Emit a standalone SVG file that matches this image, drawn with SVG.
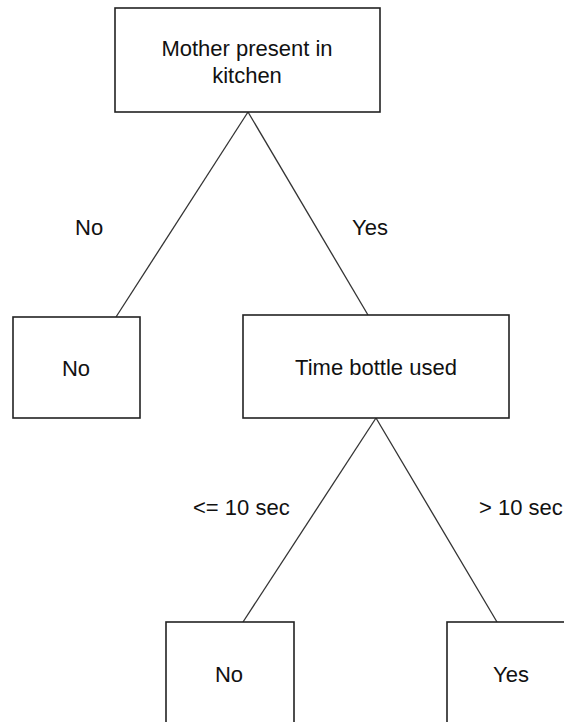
<svg xmlns="http://www.w3.org/2000/svg" width="564" height="722" viewBox="0 0 564 722">
<style>
.box{fill:#fff;stroke:#222;stroke-width:1.6}
.edge{stroke:#333;stroke-width:1.3;fill:none}
text{font-family:"Liberation Sans",Arial,sans-serif;font-size:22px;fill:#111;text-anchor:middle}
.lbl{text-anchor:start}
</style>
<rect width="564" height="722" fill="#fff"/>
<g id="connectors">
<line class="edge" x1="248" y1="112" x2="116" y2="317"/>
<line class="edge" x1="248" y1="112" x2="368" y2="315"/>
<line class="edge" x1="376" y1="418" x2="243" y2="622"/>
<line class="edge" x1="376" y1="418" x2="497" y2="622"/>
<text class="lbl" x="75" y="235">No</text>
<text class="lbl" x="352" y="235">Yes</text>
<text class="lbl" x="193" y="515">&lt;= 10 sec</text>
<text class="lbl" x="479" y="515">&gt; 10 sec</text>
</g>
<g id="node-mother">
<rect class="box" x="115" y="8" width="265" height="104"/>
<text x="247" y="56">Mother present in</text>
<text x="247" y="83">kitchen</text>
</g>
<g id="node-no1">
<rect class="box" x="13" y="317" width="127" height="101"/>
<text x="76" y="376">No</text>
</g>
<g id="node-time">
<rect class="box" x="243" y="315" width="266" height="103"/>
<text x="376" y="375">Time bottle used</text>
</g>
<g id="node-no2">
<rect class="box" x="166" y="622" width="128" height="110"/>
<text x="229" y="682">No</text>
</g>
<g id="node-yes">
<rect class="box" x="447" y="622" width="130" height="110"/>
<text x="511" y="682">Yes</text>
</g>
</svg>
